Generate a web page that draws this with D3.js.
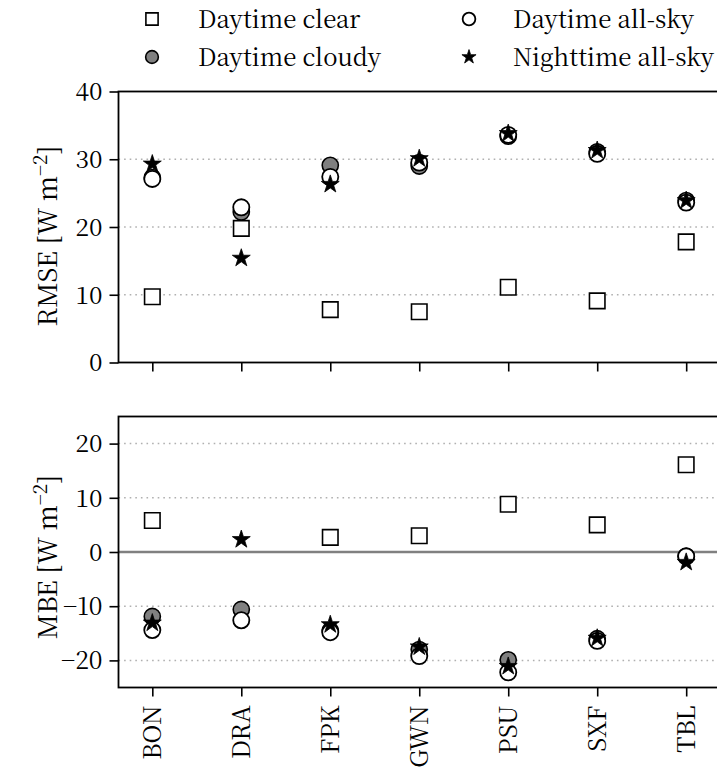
<!DOCTYPE html>
<html>
<head>
<meta charset="utf-8">
<script src="https://cdn.jsdelivr.net/npm/d3@7"></script>
<style>
  html, body { margin: 0; padding: 0; background: #fff; }
  svg { display: block; }
</style>
</head>
<body>
<svg id="chart" width="717" height="777"></svg>
<script>
// Stations along the x axis
const stations = ["BON", "DRA", "FPK", "GWN", "PSU", "SXF", "TBL"];

// RMSE [W m^-2]
const rmseClear  = [9.7, 19.8, 7.8, 7.5, 11.1, 9.1, 17.8];
const rmseCloudy = [27.3, 22.2, 29.1, 29.0, 33.4, 31.1, 23.9];
const rmseAllSky = [27.1, 22.9, 27.4, 29.5, 33.6, 30.8, 23.6];
const rmseNight  = [29.3, 15.4, 26.3, 30.1, 33.8, 31.3, 23.9];

// MBE [W m^-2] (no clear-sky bias plotted for DRA)
const mbeClear  = [5.8, null, 2.7, 3.0, 8.8, 5.0, 16.1];
const mbeCloudy = [-11.9, -10.6, -14.5, -18.0, -19.9, -16.0, -0.8];
const mbeAllSky = [-14.4, -12.6, -14.8, -19.2, -22.2, -16.4, -0.8];
const mbeNight  = [-13.1, 2.3, -13.4, -17.5, -21.1, -15.9, -1.9];

// Axis ticks
const rmseTicks = [0, 10, 20, 30, 40];
const rmseGrid  = [10, 20, 30];
const mbeTicks  = [-20, -10, 0, 10, 20];
const mbeGrid   = [-20, -10, 10, 20];

const seriesNames = ["Daytime clear", "Daytime cloudy", "Daytime all-sky", "Nighttime all-sky"];

const svg = d3.select("#chart");
const FONT = 24.5;
const LEGEND_FONT = 24;
const LABEL_FONT = 26;
const FAMILY = '"Noto Serif CJK SC", "Liberation Serif", serif';

const left = 118.5, right = 720;
const x = d3.scaleLinear().domain([-0.38, 6.38]).range([left, right]);

// marker styles, in plotting order
const markerStyles = [
  { type: d3.symbolSquare, size: 240, fill: "#fff", stroke: "#000", sw: 1.6 },
  { type: d3.symbolCircle, size: 205, fill: "#808080", stroke: "#000", sw: 1.6 },
  { type: d3.symbolCircle, size: 205, fill: "#fff", stroke: "#000", sw: 1.8 },
  { type: d3.symbolStar,   size: 100, fill: "#000", stroke: "#000", sw: 0.8 }
];

function drawMarkers(g, values, style, y) {
  const sym = d3.symbol().type(style.type).size(style.size);
  g.selectAll(null)
    .data(values.map((v, i) => ({ v, i })).filter(d => d.v != null))
    .join("path")
    .attr("d", sym)
    .attr("transform", d => `translate(${x(d.i)},${y(d.v)})`)
    .attr("fill", style.fill)
    .attr("stroke", style.stroke)
    .attr("stroke-width", style.sw);
}

function panel(top, bottom, domain, ticks, grid, zeroLine, series, labelMain, labelCenter, showXLabels) {
  const y = d3.scaleLinear().domain(domain).range([bottom, top]);
  const g = svg.append("g");

  // dotted grid
  g.selectAll(null).data(grid).join("line")
    .attr("x1", left).attr("x2", right)
    .attr("y1", d => y(d)).attr("y2", d => y(d))
    .attr("stroke", "#b0b0b0").attr("stroke-width", 1.5)
    .attr("stroke-dasharray", "1.6,4");

  if (zeroLine) {
    g.append("line")
      .attr("x1", left).attr("x2", right)
      .attr("y1", y(0)).attr("y2", y(0))
      .attr("stroke", "#808080").attr("stroke-width", 2.6);
  }

  series.forEach((vals, k) => drawMarkers(g, vals, markerStyles[k], y));

  // y axis
  const yAxis = d3.axisLeft(y).tickValues(ticks).tickSize(9).tickPadding(7)
    .tickFormat(d => d < 0 ? "\u2212" + Math.abs(d) : String(d));
  const ya = g.append("g").attr("transform", `translate(${left},0)`).call(yAxis);
  ya.select(".domain").remove();
  ya.selectAll(".tick line").attr("stroke", "#000").attr("stroke-width", 1.6);
  ya.selectAll(".tick text")
    .style("font-family", FAMILY).style("font-size", FONT + "px")
    .attr("fill", "#000").attr("dy", "0.34em");

  // x axis
  const xAxis = d3.axisBottom(x).tickValues(d3.range(stations.length)).tickSize(9).tickPadding(8)
    .tickFormat(i => showXLabels ? stations[i] : "");
  const xa = g.append("g").attr("transform", `translate(0,${bottom})`).call(xAxis);
  xa.select(".domain").remove();
  xa.selectAll(".tick line").attr("stroke", "#000").attr("stroke-width", 1.6);
  if (showXLabels) {
    xa.selectAll(".tick text")
      .style("font-family", FAMILY).style("font-size", FONT + "px")
      .attr("fill", "#000")
      .attr("text-anchor", "end")
      .attr("transform", "rotate(-90)")
      .attr("x", -18).attr("y", 0).attr("dy", "0.34em");
  } else {
    xa.selectAll(".tick text").remove();
  }

  // frame
  g.append("rect")
    .attr("x", left).attr("y", top)
    .attr("width", right - left).attr("height", bottom - top)
    .attr("fill", "none").attr("stroke", "#000").attr("stroke-width", 1.8);

  // y label with superscript
  const lab = g.append("text")
    .attr("transform", `translate(57,${labelCenter}) rotate(-90)`)
    .attr("text-anchor", "middle")
    .style("font-family", FAMILY).style("font-size", LABEL_FONT + "px")
    .attr("fill", "#000");
  lab.append("tspan").text(labelMain + " [W m");
  lab.append("tspan").attr("dy", -10).style("font-size", "19px").text("\u22122");
  lab.append("tspan").attr("dy", 10).text("]");
}

panel(91.5, 362.5, [0, 40], rmseTicks, rmseGrid, false,
      [rmseClear, rmseCloudy, rmseAllSky, rmseNight], "RMSE", 236, false);
panel(416.5, 687.5, [-25, 25], mbeTicks, mbeGrid, true,
      [mbeClear, mbeCloudy, mbeAllSky, mbeNight], "MBE", 557, true);

// legend: two columns, two rows
const legendPos = [
  { mx: 152, tx: 198, by: 28 },
  { mx: 152, tx: 198, by: 66 },
  { mx: 469, tx: 513, by: 28 },
  { mx: 469, tx: 513, by: 66 }
];
const lg = svg.append("g");
seriesNames.forEach((name, k) => {
  const p = legendPos[k];
  const st = markerStyles[k];
  lg.append("path")
    .attr("d", d3.symbol().type(st.type).size(st.size * 0.62))
    .attr("transform", `translate(${p.mx},${p.by - 9})`)
    .attr("fill", st.fill).attr("stroke", st.stroke).attr("stroke-width", st.sw);
  lg.append("text")
    .attr("x", p.tx).attr("y", p.by)
    .style("font-family", FAMILY).style("font-size", LEGEND_FONT + "px")
    .attr("fill", "#000")
    .text(name);
});
</script>
</body>
</html>
